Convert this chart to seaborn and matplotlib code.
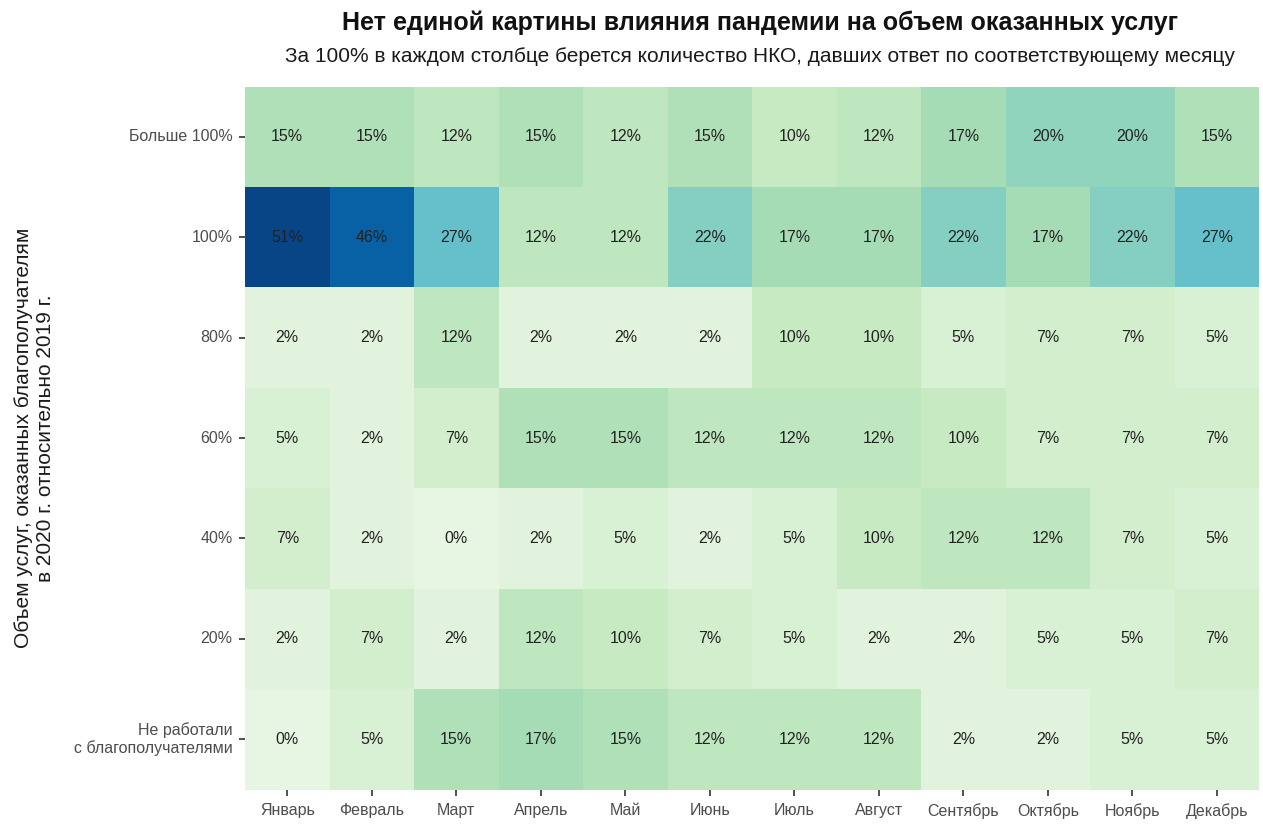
import numpy as np
import pandas as pd
import seaborn as sns
import matplotlib
matplotlib.use("Agg")
import matplotlib.pyplot as plt

# data
months = ["Январь", "Февраль", "Март", "Апрель", "Май", "Июнь",
          "Июль", "Август", "Сентябрь", "Октябрь", "Ноябрь", "Декабрь"]
levels = ["Больше 100%", "100%", "80%", "60%", "40%", "20%",
          "Не работали\nс благополучателями"]

more_100 = [15, 15, 12, 15, 12, 15, 10, 12, 17, 20, 20, 15]
same_100 = [51, 46, 27, 12, 12, 22, 17, 17, 22, 17, 22, 27]
pct_80 = [2, 2, 12, 2, 2, 2, 10, 10, 5, 7, 7, 5]
pct_60 = [5, 2, 7, 15, 15, 12, 12, 12, 10, 7, 7, 7]
pct_40 = [7, 2, 0, 2, 5, 2, 5, 10, 12, 12, 7, 5]
pct_20 = [2, 7, 2, 12, 10, 7, 5, 2, 2, 5, 5, 7]
not_working = [0, 5, 15, 17, 15, 12, 12, 12, 2, 2, 5, 5]

df = pd.DataFrame([more_100, same_100, pct_80, pct_60, pct_40, pct_20, not_working],
                  index=levels, columns=months)
labels = df.map(lambda v: f"{v}%")

sns.set_style("white")
plt.rcParams['font.family'] = ['Liberation Sans', 'DejaVu Sans']

fig = plt.figure(figsize=(12.63, 8.25), dpi=100)
ax = fig.add_axes([0.194, 0.043, 0.803, 0.852])

sns.heatmap(df, ax=ax, cmap="GnBu", vmin=-5, vmax=52, cbar=False,
            annot=labels, fmt="", linewidths=0,
            annot_kws={"fontsize": 11.5, "color": "#222222"})

# ggplot-like ticks
ax.tick_params(axis="both", which="major", length=4, width=1.2, color="#333333",
               labelsize=11.5, labelcolor="#4d4d4d",
               bottom=True, left=True)
ax.tick_params(axis="y", rotation=0, pad=5)
ax.tick_params(axis="x", rotation=0, pad=6)
for t in ax.get_yticklabels():
    t.set_horizontalalignment("right")
    t.set_multialignment("right")

ax.set_xlabel("")
ax.set_ylabel("Объем услуг, оказанных благополучателям\nв 2020 г. относительно 2019 г.",
              fontsize=15, color="#1a1a1a")
ax.yaxis.set_label_coords(-0.187, 0.5)

fig.text(0.602, 0.972, "Нет единой картины влияния пандемии на объем оказанных услуг",
         ha="center", va="center", fontsize=18, fontweight="bold", color="#111111")
fig.text(0.602, 0.932, "За 100% в каждом столбце берется количество НКО, давших ответ по соответствующему месяцу",
         ha="center", va="center", fontsize=15, color="#1a1a1a")

fig.savefig("out.png", dpi=100)
